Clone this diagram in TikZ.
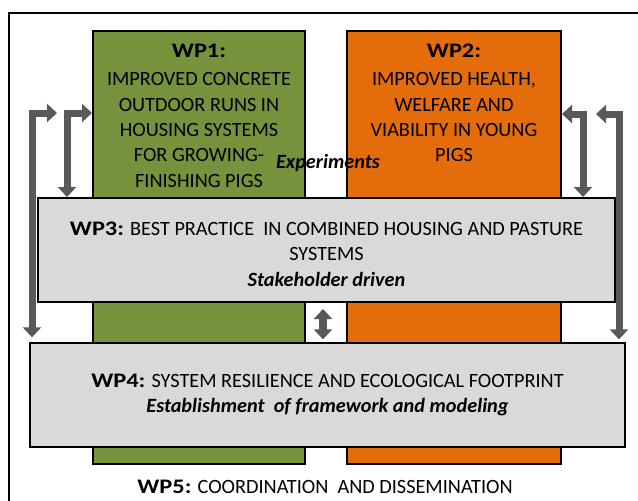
\documentclass[tikz,border=0pt]{standalone}
\usepackage{fontspec}
\setmainfont{Carlito}
\usetikzlibrary{arrows.meta,fit,positioning}
\definecolor{wpgreen}{HTML}{76923C}
\definecolor{wporange}{HTML}{E46C0A}
\definecolor{wpgrey}{HTML}{D9D9D9}
\definecolor{flowgrey}{HTML}{595959}
\newcommand{\wpno}[1]{{\fontsize{15.5pt}{19pt}\bfseries\addfontfeatures{FakeStretch=1.18}#1}}

\begin{document}
\begin{tikzpicture}[
  x=0.75pt,y=-0.75pt,
  wpbox/.style={draw, line width=1.5pt, inner sep=0pt},
  wptext/.style={align=center, inner sep=0pt, font=\fontsize{15.2pt}{19pt}\selectfont},
  flow/.style={draw=flowgrey, line width=5.25pt,
    {Triangle[width=13.5pt,length=7.5pt]}-{Triangle[width=13.5pt,length=7.5pt]}}
]
\useasboundingbox (0,0) rectangle (638,500);
\clip (0,0) rectangle (638,500);
\draw[line width=1.5pt] (9,13) rectangle (660,530);

% work package columns and bands
\node[wpbox, fill=wpgreen, fit={(93,31) (305,464)}] (wp1) {};
\node[wpbox, fill=wporange, fit={(347,31) (561,464)}] (wp2) {};
\node[wpbox, fill=wpgrey, fit={(38,198) (615,302)}] (wp3) {};
\node[wpbox, fill=wpgrey, fit={(30,343) (625,447)}] (wp4) {};

\node[wptext, below=10.5pt of wp1.north] (wp1t) {\wpno{WP1:}\\[2pt] IMPROVED CONCRETE\\ OUTDOOR RUNS IN\\ HOUSING SYSTEMS\\ FOR GROWING-\\ FINISHING PIGS};
\node[wptext, below=10.5pt of wp2.north] (wp2t) {\wpno{WP2:}\\[2pt] IMPROVED HEALTH,\\ WELFARE AND\\ VIABILITY IN YOUNG\\ PIGS};
\node[wptext, anchor=base] (exp) at (328,168) {\textbf{\textit{Experiments}}};
\node[wptext] (wp3t) at ([yshift=-3pt]wp3.center) {\wpno{WP3:} BEST PRACTICE\ \ IN COMBINED HOUSING AND PASTURE\\ SYSTEMS\\ \textbf{\textit{Stakeholder driven}}};
\node[wptext] (wp4t) at (wp4.center) {\wpno{WP4:} SYSTEM RESILIENCE AND ECOLOGICAL FOOTPRINT\\ \textbf{\textit{Establishment\ \ of framework and modeling}}};
\node[wptext, anchor=base] (wp5) at (325,493) {\wpno{WP5:} COORDINATION\ \ AND DISSEMINATION};

% feedback arrows
\coordinate (lout) at (32,113);
\coordinate (loutend) at (57,113);
\coordinate (lin) at (67,113);
\coordinate (rin) at (583,114);
\coordinate (rout) at (619,114);
\coordinate (routend) at (596,114);
\coordinate (mid) at (323,0);

\draw[flow, shorten >=3.5pt] (loutend) -| (lout |- wp4.north);
\draw[flow] (wp1.west |- lin) -| (lin |- wp3.north);
\draw[flow] (wp2.east |- rin) -| (rin |- wp3.north);
\draw[flow, shorten >=2pt] (routend) -| (rout |- wp4.north);
\draw[flow, line width=6pt, shorten <=4.5pt, shorten >=2pt] (wp3.south -| mid) -- (wp4.north -| mid);
\end{tikzpicture}
\end{document}
